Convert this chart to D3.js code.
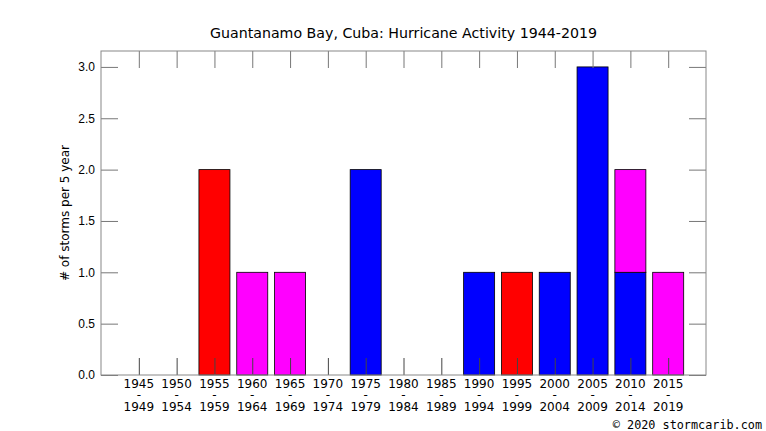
<!DOCTYPE html>
<html>
<head>
<meta charset="utf-8">
<script src="https://cdn.jsdelivr.net/npm/d3@7"></script>
<style>
  body { margin: 0; background: #fff; }
  svg { display: block; font-family: "DejaVu Sans", sans-serif; }
</style>
</head>
<body>
<div id="chart"></div>
<script>
// 5-year periods
const startYears = ["1945","1950","1955","1960","1965","1970","1975","1980","1985","1990","1995","2000","2005","2010","2015"];
const endYears   = ["1949","1954","1959","1964","1969","1974","1979","1984","1989","1994","1999","2004","2009","2014","2019"];

// storms per period, by colour class (stacked in this order)
const redCounts     = [0,0,2,0,0,0,0,0,0,0,1,0,0,0,0];
const blueCounts    = [0,0,0,0,0,0,2,0,0,1,0,1,3,1,0];
const magentaCounts = [0,0,0,1,1,0,0,0,0,0,0,0,0,1,1];

const yTicks = [0, 0.5, 1.0, 1.5, 2.0, 2.5, 3.0];

const seriesNames = ["red", "blue", "magenta"];
const seriesColors = {red: "#ff0000", blue: "#0000ff", magenta: "#ff00ff"};

const width = 766, height = 431;
const margin = {top: 51, right: 60, bottom: 56, left: 101};
const plotW = width - margin.left - margin.right;
const plotH = height - margin.top - margin.bottom;

const table = startYears.map((s, i) => ({
  idx: i,
  red: redCounts[i],
  blue: blueCounts[i],
  magenta: magentaCounts[i]
}));

const stack = d3.stack().keys(seriesNames);
const layers = stack(table);

const x = d3.scaleLinear().domain([-1, 15]).range([0, plotW]);
const y = d3.scaleLinear().domain([0, 3.155]).range([plotH, 0]);
const barW = (x(1) - x(0)) * 0.82;

const svg = d3.select("#chart").append("svg")
  .attr("width", width)
  .attr("height", height);

svg.append("text")
  .attr("x", margin.left + plotW / 2)
  .attr("y", 38)
  .attr("text-anchor", "middle")
  .style("font-size", "14.2px")
  .text("Guantanamo Bay, Cuba: Hurricane Activity 1944-2019");

const g = svg.append("g")
  .attr("transform", `translate(${margin.left},${margin.top})`);

// bars
layers.forEach(layer => {
  g.selectAll(null)
    .data(layer.filter(d => d[1] > d[0]))
    .enter().append("rect")
    .attr("x", d => x(d.data.idx) - barW / 2)
    .attr("y", d => y(d[1]))
    .attr("width", barW)
    .attr("height", d => y(d[0]) - y(d[1]))
    .attr("fill", seriesColors[layer.key])
    .attr("stroke", "#000")
    .attr("stroke-width", 0.8);
});

const tickLen = 17;
const tickColor = "#777";

// y ticks, left and mirrored on right
const yAxis = d3.axisLeft(y).tickValues(yTicks).tickFormat(d3.format(".1f")).tickSize(-tickLen).tickPadding(6);
const ya = g.append("g").call(yAxis);
ya.select(".domain").remove();
ya.selectAll("line").attr("stroke", tickColor);
ya.selectAll("text").style("font-size", "12px").attr("fill", "#000");

const yAxisR = d3.axisRight(y).tickValues(yTicks).tickFormat("").tickSize(-tickLen);
const yr = g.append("g").attr("transform", `translate(${plotW},0)`).call(yAxisR);
yr.select(".domain").remove();
yr.selectAll("line").attr("stroke", tickColor);

// x ticks, bottom and mirrored on top
const idxs = d3.range(startYears.length);
const xAxis = d3.axisBottom(x).tickValues(idxs).tickFormat("").tickSize(-tickLen);
const xa = g.append("g").attr("transform", `translate(0,${plotH})`).call(xAxis);
xa.select(".domain").remove();
xa.selectAll("line").attr("stroke", "#444");

const xAxisT = d3.axisTop(x).tickValues(idxs).tickFormat("").tickSize(-tickLen);
const xt = g.append("g").call(xAxisT);
xt.select(".domain").remove();
xt.selectAll("line").attr("stroke", tickColor);

// x labels: "start / - / end", one text per line
const labG = g.append("g").attr("transform", `translate(0,${plotH})`);
const labLines = [
  {dy: 13, f: d => startYears[d]},
  {dy: 24, f: d => "-"},
  {dy: 36, f: d => endYears[d]}
];
labLines.forEach(line => {
  labG.selectAll(null).data(idxs).enter().append("text")
    .attr("text-anchor", "middle")
    .attr("x", d => x(d))
    .attr("y", line.dy)
    .style("font-size", "12px")
    .text(line.f);
});

// frame
g.append("rect")
  .attr("width", plotW)
  .attr("height", plotH)
  .attr("fill", "none")
  .attr("stroke", "#888")
  .attr("stroke-width", 1);

// y label
svg.append("text")
  .attr("transform", `translate(69,${margin.top + plotH / 2}) rotate(-90)`)
  .attr("text-anchor", "middle")
  .style("font-size", "12px")
  .text("# of storms per 5 year");

// footer
svg.append("text")
  .attr("x", 762)
  .attr("y", 429)
  .attr("text-anchor", "end")
  .style("font-family", "'DejaVu Sans Mono', monospace")
  .style("font-size", "11.8px")
  .text("\u00a9 2020 stormcarib.com");
</script>
</body>
</html>
